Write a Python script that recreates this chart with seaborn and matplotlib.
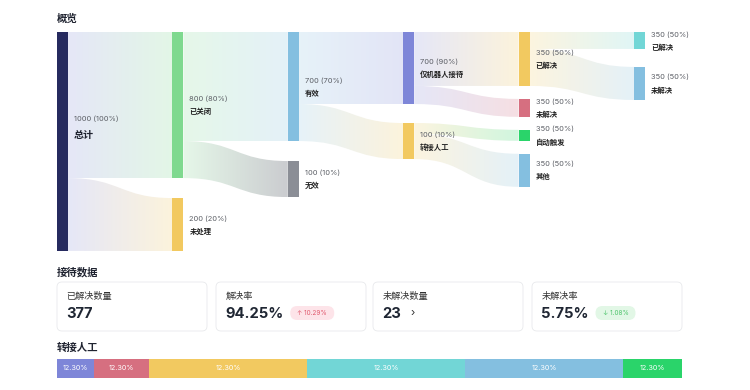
import numpy as np
import matplotlib
matplotlib.use("Agg")
import matplotlib.pyplot as plt
import seaborn as sns
from matplotlib.path import Path
from matplotlib.patches import PathPatch, FancyBboxPatch, Rectangle
from matplotlib.colors import to_rgb

# ---------------- data ----------------
node_names = ["总计", "已关闭", "未处理", "有效", "无效", "仅机器人接待", "转接人工",
              "已解决", "未解决", "自动触发", "其他", "已解决", "未解决"]
node_cols = [0, 1, 1, 2, 2, 3, 3, 4, 4, 4, 4, 5, 5]
node_numbers = ["1000 (100%)", "800 (80%)", "200 (20%)", "700 (70%)", "100 (10%)",
                "700 (90%)", "100 (10%)", "350 (50%)", "350 (50%)", "350 (50%)",
                "350 (50%)", "350 (50%)", "350 (50%)"]
node_sizes = [1100, 734, 266, 548, 181, 362, 181, 271, 90, 55, 166, 85, 166]

link_src = [0, 0, 1, 1, 3, 3, 5, 5, 6, 6, 7, 7]
link_tgt = [1, 2, 3, 4, 5, 6, 7, 8, 9, 10, 11, 12]
link_vals = [734, 266, 548, 186, 362, 186, 271, 90, 55, 126, 85, 186]

card_labels = ["已解决数量", "解决率", "未解决数量", "未解决率"]
card_values = ["377", "94.25%", "23", "5.75%"]
card_badges = [None, "↑ 10.29%", None, "↓ 1.08%"]

bar_segments = [5.9, 8.8, 25.3, 25.3, 25.3, 9.4]
bar_labels = ["12.30%"] * 6

# ---------------- style ----------------
node_colors = ["#262a5f", "#7fd98f", "#f2c960", "#84bfe0", "#8b8e96", "#7e86d8", "#f2c960",
               "#f2c960", "#d66f80", "#2ad46a", "#84bfe0", "#72d6d6", "#84bfe0"]
link_tints = list(node_colors)
link_tints[0] = "#7e86d8"
bar_colors = ["#7e86d8", "#d66f80", "#f2c960", "#72d6d6", "#84bfe0", "#2ad46a"]

sns.set_theme(style="white")
plt.rcParams["font.family"] = ["Noto Sans CJK SC", "DejaVu Sans"]
NUMF = ["Inter", "Noto Sans CJK SC", "DejaVu Sans"]

fig = plt.figure(figsize=(7.5, 3.9), dpi=100)
ax = fig.add_axes([0, 0, 1, 1])
ax.set_xlim(0, 750)
ax.set_ylim(390, 0)
ax.axis("off")

def tint(c, a):
    c = np.array(to_rgb(c))
    return 1 - a * (1 - c)

# ---------------- sankey layout ----------------
k = 0.199
y0 = 32
col_gap = [0, 20, 20, 19, 13, 18]
node_w = 11
col_dx = 115.4
x_start = 57

node_top = [0.0] * len(node_names)
node_bot = [0.0] * len(node_names)
col_cursor = {}
for i, c in enumerate(node_cols):
    if c not in col_cursor:
        top = y0
    else:
        top = col_cursor[c] + col_gap[c]
    node_top[i] = top
    node_bot[i] = top + node_sizes[i] * k
    col_cursor[c] = node_bot[i]
node_x = [x_start + c * col_dx for c in node_cols]

src_seg, tgt_seg = {}, {}
for n in range(len(node_names)):
    outs = [j for j, s in enumerate(link_src) if s == n]
    cur = node_top[n]
    for m, j in enumerate(outs):
        end = node_bot[n] if m == len(outs) - 1 else cur + link_vals[j] * k
        src_seg[j] = (cur, end)
        cur = end
    ins = [j for j, t in enumerate(link_tgt) if t == n]
    cur = node_top[n]
    for m, j in enumerate(ins):
        end = node_bot[n] if m == len(ins) - 1 else cur + link_vals[j] * k
        tgt_seg[j] = (cur, end)
        cur = end

grad = np.linspace(0, 1, 256)
for j in range(len(link_vals)):
    s, t = link_src[j], link_tgt[j]
    x0 = node_x[s] + node_w
    x1 = node_x[t]
    xm = (x0 + x1) / 2
    s0, s1 = src_seg[j]
    t0, t1 = tgt_seg[j]
    verts = [(x0, s0), (xm, s0), (xm, t0), (x1, t0), (x1, t1), (xm, t1), (xm, s1), (x0, s1), (x0, s0)]
    codes = [Path.MOVETO, Path.CURVE4, Path.CURVE4, Path.CURVE4, Path.LINETO,
             Path.CURVE4, Path.CURVE4, Path.CURVE4, Path.CLOSEPOLY]
    patch = PathPatch(Path(verts, codes), facecolor="none", edgecolor="none")
    ax.add_patch(patch)
    a_t = 0.45 if node_colors[t] == "#8b8e96" else 0.22
    c0 = tint(link_tints[s], 0.2)
    c1 = tint(link_tints[t], a_t)
    cols = c0[None, :] * (1 - grad[:, None]) + c1[None, :] * grad[:, None]
    im = ax.imshow(cols[None, :, :], extent=[x0, x1, max(s1, t1), min(s0, t0)],
                   aspect="auto", interpolation="bilinear", zorder=1)
    im.set_clip_path(patch)

for i in range(len(node_names)):
    ax.add_patch(Rectangle((node_x[i], node_top[i]), node_w, node_bot[i] - node_top[i],
                           facecolor=node_colors[i], edgecolor="none", zorder=2))
    lx = node_x[i] + node_w + 6
    if node_cols[i] == 0:
        ax.text(lx, 119, node_numbers[i], fontsize=5.4, color="#5c5f66", va="center", family=NUMF)
        ax.text(lx, 135, node_names[i], fontsize=7.2, color="#1f2330", va="center", fontweight="bold")
    else:
        cy = (node_top[i] + node_bot[i]) / 2
        ax.text(lx, cy - 6.2, node_numbers[i], fontsize=5.4, color="#5c5f66", va="center", family=NUMF)
        ax.text(lx, cy + 6.5, node_names[i], fontsize=5.3, color="#222222", va="center", fontweight="bold")

ax.set_xlim(0, 750)
ax.set_ylim(390, 0)
ax.set_aspect("auto")

# ---------------- section titles ----------------
ax.text(57, 19, "概览", fontsize=7.5, fontweight="bold", color="#1f2330", va="center")
ax.text(57, 272, "接待数据", fontsize=7.5, fontweight="bold", color="#1f2330", va="center")
ax.text(57, 348, "转接人工", fontsize=7.5, fontweight="bold", color="#1f2330", va="center")

# ---------------- cards ----------------
renderer = fig.canvas.get_renderer()
card_x = [57, 216, 373, 532]
card_w, card_top, card_bot = 150, 282, 331
inv = ax.transData.inverted()
for i in range(4):
    ax.add_patch(FancyBboxPatch((card_x[i], card_top), card_w, card_bot - card_top,
                                boxstyle="round,pad=0,rounding_size=5",
                                facecolor="white", edgecolor="#e8e9ec", linewidth=0.6, zorder=2))
    ax.text(card_x[i] + 9.5, 296, card_labels[i], fontsize=6.6, color="#333333", va="center", zorder=3)
    vt = ax.text(card_x[i] + 9, 314, card_values[i], fontsize=10.6, fontweight="bold",
                 color="#1f2633", va="center", family=NUMF, zorder=3)
    bb = vt.get_window_extent(renderer=renderer)
    xend = inv.transform((bb.x1, bb.y0))[0]
    if card_badges[i] is not None:
        up = card_badges[i].startswith("↑")
        bg = "#fde4e9" if up else "#e2f7e6"
        fg = "#e0586d" if up else "#4cc36a"
        bw = 44 if up else 40
        bx = xend + 7
        ax.add_patch(FancyBboxPatch((bx, 306), bw, 14, boxstyle="round,pad=0,rounding_size=7",
                                    facecolor=bg, edgecolor="none", zorder=3))
        ax.text(bx + bw / 2, 313.2, card_badges[i], fontsize=4.6, color=fg, ha="center",
                va="center", family=NUMF, zorder=4)
    if card_values[i] == "23":
        ax.text(xend + 12, 313, "›", fontsize=8, color="#333333", va="center",
                ha="center", family=NUMF, zorder=3)

# ---------------- stacked bar (seaborn) ----------------
bax = fig.add_axes([57 / 750, (390 - 378) / 390, 625 / 750, 19 / 390])
cum = np.cumsum(bar_segments)
for i in reversed(range(len(bar_segments))):
    sns.barplot(x=[cum[i]], y=[0], orient="h", color=bar_colors[i], width=1.0,
                saturation=1, edgecolor="none", linewidth=0, ax=bax)
bax.set_xlim(0, cum[-1])
bax.set_ylim(0.5, -0.5)
bax.axis("off")
for i in range(len(bar_segments)):
    bax.text(cum[i] - bar_segments[i] / 2, 0, bar_labels[i], fontsize=5.2, color="white",
             ha="center", va="center", family=NUMF)

fig.savefig("out.png", dpi=100)
